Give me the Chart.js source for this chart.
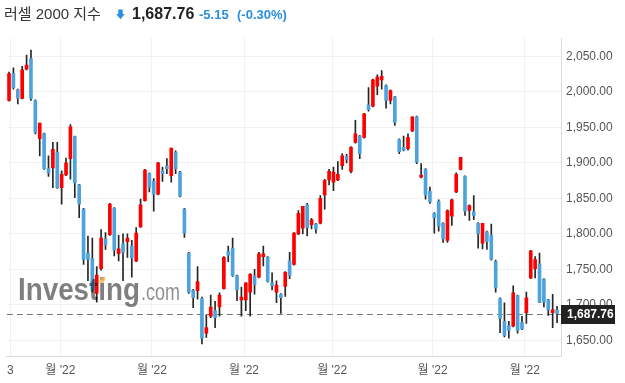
<!DOCTYPE html>
<html>
<head>
<meta charset="utf-8">
<script src="https://cdn.jsdelivr.net/npm/chart.js@4.4.1/dist/chart.umd.min.js"></script>
<style>
html,body{margin:0;padding:0;background:#fff;}
canvas{display:block;}
</style>
</head>
<body>
<canvas id="c" width="625" height="383"></canvas>
<script>
// ---- data ----
const title = '러셀 2000 지수';
const lastPriceText = '1,687.76';
const changeText = '-5.15';
const changePctText = '(-0.30%)';
const lastPrice = 1687.76;

const opens = [1988,2026,2003,1991,2032,2047,1988,1934,1941,1892,1893,1915,1865,1883,1906,1937,1869,1835,1773,1765,
1716,1751,1793,1799,1836,1772,1786,1789,1783,1762,1810,1847,1885,1874,1856,1889,1896,1882,1915,1887,
1835,1773,1720,1720,1709,1660,1684,1692,1697,1723,1775,1780,1741,1707,1707,1718,1741,1739,1768,1767,
1731,1718,1715,1726,1762,1757,1800,1808,1841,1813,1814,1815,1855,1876,1873,1876,1896,1909,1888,1929,
1938,1936,1982,1980,2008,2017,2009,1988,1993,1933,1922,1920,1945,1965,1880,1891,1860,1829,1846,1815,
1791,1825,1859,1891,1881,1833,1831,1815,1787,1803,1798,1761,1709,1677,1671,1670,1713,1675,1689,1738,
1751,1758,1736,1707,1689,1692.91];
const highs = [2028,2034,2004,2036,2052,2059,1989,1956,1942,1910,1929,1929,1889,1907,1954,1938,1870,1836,1797,1794,
1754,1806,1802,1843,1837,1798,1800,1800,1791,1809,1849,1891,1886,1878,1901,1894,1906,1921,1917,1888,
1836,1774,1722,1754,1711,1686,1714,1705,1717,1768,1783,1794,1742,1725,1731,1744,1750,1774,1783,1768,
1745,1734,1716,1747,1774,1802,1833,1839,1843,1822,1815,1854,1877,1891,1894,1902,1913,1912,1923,1960,
1939,1970,2006,2018,2024,2030,2010,2003,1994,1934,1938,1941,1965,1966,1899,1892,1866,1830,1848,1816,
1834,1849,1886,1908,1882,1841,1854,1816,1815,1804,1814,1763,1710,1703,1677,1727,1714,1684,1718,1777,
1768,1773,1737,1708,1715,1698];
const lows = [1987,2004,1983,1990,2031,1988,1941,1910,1891,1881,1865,1864,1842,1882,1877,1851,1823,1757,1734,1718,
1704,1749,1778,1798,1769,1762,1734,1767,1739,1761,1809,1846,1859,1832,1855,1874,1885,1873,1885,1852,
1795,1716,1696,1708,1645,1654,1682,1668,1684,1722,1761,1740,1706,1684,1692,1684,1715,1738,1755,1732,
1721,1703,1688,1712,1737,1756,1799,1800,1797,1807,1801,1814,1835,1869,1861,1875,1891,1900,1886,1928,
1906,1935,1973,1979,1996,2004,1977,1983,1953,1913,1917,1918,1944,1899,1879,1849,1843,1801,1804,1788,
1788,1812,1858,1890,1826,1819,1820,1780,1779,1778,1763,1718,1661,1655,1653,1669,1660,1665,1674,1737,
1738,1703,1697,1685,1668,1675];
const closes = [2026,2006,1991,2031,2038,1991,1943,1956,1892,1886,1919,1865,1884,1900,1951,1872,1842,1764,1764,1721,
1742,1794,1785,1842,1777,1779,1774,1794,1766,1801,1841,1890,1866,1856,1900,1885,1892,1921,1892,1853,
1801,1718,1710,1733,1653,1668,1697,1682,1714,1767,1770,1741,1721,1711,1731,1743,1729,1772,1772,1733,
1727,1728,1710,1746,1741,1801,1829,1839,1809,1820,1807,1850,1875,1888,1887,1884,1910,1905,1922,1941,
1913,1969,1975,2017,2021,2022,1988,2002,1957,1916,1918,1936,1965,1901,1883,1855,1845,1823,1811,1793,
1833,1848,1884,1908,1832,1840,1826,1800,1815,1789,1764,1724,1681,1657,1664,1717,1664,1666,1710,1776,
1764,1704,1704,1693,1692.91,1687.76];

const xTickIndex = [0.3, 11.7, 32.6, 53.6, 73.7, 96.6, 117.65];
const xTickLabels = ['3', "월 '22", "월 '22", "월 '22", "월 '22", "월 '22", "월 '22"];
const yTickValues = [1650, 1700, 1750, 1800, 1850, 1900, 1950, 2000, 2050];

// ---- styling ----
const UP = '#ff0000', DOWN = '#4ea3dd', WICK = '#262626', BLUE = '#2a8fe0';
const FONT = '"Liberation Sans", Arial, "Noto Sans CJK KR", sans-serif';
const fmt = v => v.toLocaleString('en-US', {minimumFractionDigits: 2, maximumFractionDigits: 2});

const bodyData = opens.map((o, i) => ({x: i, y: [o, closes[i]]}));
const wickData = lows.map((l, i) => ({x: i, y: [l, highs[i]]}));
const bodyColors = opens.map((o, i) => closes[i] >= o ? UP : DOWN);

const overlay = {
  id: 'overlay',
  beforeDatasetsDraw(chart) {
    const {ctx, chartArea, scales} = chart;
    const y = Math.round(scales.y.getPixelForValue(lastPrice)) + 0.5;
    ctx.save();
    ctx.strokeStyle = '#777';
    ctx.lineWidth = 1;
    ctx.setLineDash([6, 4]);
    ctx.beginPath();
    ctx.moveTo(chartArea.left, y);
    ctx.lineTo(chartArea.right, y);
    ctx.stroke();
    ctx.restore();
  },
  afterDatasetsDraw(chart) {
    const {ctx} = chart;
    ctx.save();
    // watermark
    ctx.textBaseline = 'alphabetic';
    ctx.textAlign = 'left';
    ctx.fillStyle = 'rgba(0,0,0,0.5)';
    ctx.font = 'bold 31px ' + FONT;
    let w = ctx.measureText('Investing').width;
    ctx.save();
    ctx.translate(18, 300);
    ctx.scale(122 / w, 1);
    ctx.fillText('Investing', 0, 0);
    ctx.restore();
    ctx.fillStyle = 'rgba(0,0,0,0.45)';
    ctx.font = '23px ' + FONT;
    w = ctx.measureText('.com').width;
    ctx.save();
    ctx.translate(141, 300);
    ctx.scale(39 / w, 1);
    ctx.fillText('.com', 0, 0);
    ctx.restore();
    ctx.fillStyle = 'rgba(250,180,70,0.75)';
    ctx.beginPath();
    ctx.moveTo(99, 283); ctx.lineTo(101.5, 277); ctx.lineTo(106, 277); ctx.lineTo(103.5, 283);
    ctx.closePath();
    ctx.fill();
    ctx.restore();
  },
  afterDraw(chart) {
    const {ctx, chartArea, scales} = chart;
    ctx.save();
    // last price box
    const y = scales.y.getPixelForValue(lastPrice);
    ctx.fillStyle = '#222';
    ctx.fillRect(chartArea.right, Math.round(y) - 9, 625 - chartArea.right - 10, 19);
    ctx.fillStyle = '#fff';
    ctx.font = 'bold 12px ' + FONT;
    ctx.textBaseline = 'middle';
    ctx.textAlign = 'left';
    ctx.fillText(fmt(lastPrice), 567, Math.round(y) + 1);
    // header
    ctx.textBaseline = 'alphabetic';
    ctx.fillStyle = '#333';
    ctx.font = '15px ' + FONT;
    ctx.fillText(title, 4, 19);
    ctx.fillStyle = BLUE;
    ctx.fillRect(118.3, 9.5, 4.4, 5);
    ctx.beginPath();
    ctx.moveTo(116.2, 14); ctx.lineTo(124.8, 14); ctx.lineTo(120.5, 19.3);
    ctx.closePath();
    ctx.fill();
    ctx.fillStyle = '#222';
    ctx.font = 'bold 16px ' + FONT;
    ctx.fillText(lastPriceText, 132, 19);
    ctx.fillStyle = BLUE;
    ctx.font = 'bold 13px ' + FONT;
    ctx.fillText(changeText, 199, 19);
    ctx.fillText(changePctText, 237, 19);
    ctx.restore();
  }
};

new Chart(document.getElementById('c'), {
  type: 'bar',
  data: {
    datasets: [
      {label: 'body', data: bodyData, backgroundColor: bodyColors, barThickness: 3, minBarLength: 1.5, grouped: false, order: 1, borderWidth: 0},
      {label: 'wick', data: wickData, backgroundColor: WICK, barThickness: 1, grouped: false, order: 2, borderWidth: 0}
    ]
  },
  options: {
    responsive: false,
    animation: false,
    events: [],
    layout: {padding: {top: 38, left: 3, right: 0, bottom: 0}},
    plugins: {legend: {display: false}, tooltip: {enabled: false}},
    scales: {
      x: {
        type: 'linear', min: -0.5, max: 125.9, offset: false,
        grid: {color: '#f1f1f1', drawTicks: false, offset: false},
        border: {color: '#dcdcdc'},
        afterBuildTicks: s => { s.ticks = xTickIndex.map(v => ({value: v})); },
        afterFit: s => { s.height = 27; },
        ticks: {autoSkip: false, maxRotation: 0, padding: 7, color: '#555', font: {size: 12, family: FONT},
          callback: (v, i) => xTickLabels[i]}
      },
      y: {
        position: 'right', min: 1628, max: 2076,
        grid: {color: '#f1f1f1', drawTicks: false},
        border: {color: '#dcdcdc'},
        afterBuildTicks: s => { s.ticks = yTickValues.map(v => ({value: v})); },
        afterFit: s => { s.width = 64; },
        ticks: {padding: 5, color: '#555', font: {size: 12, family: FONT}, callback: v => fmt(v)}
      }
    }
  },
  plugins: [overlay]
});
</script>
</body>
</html>
